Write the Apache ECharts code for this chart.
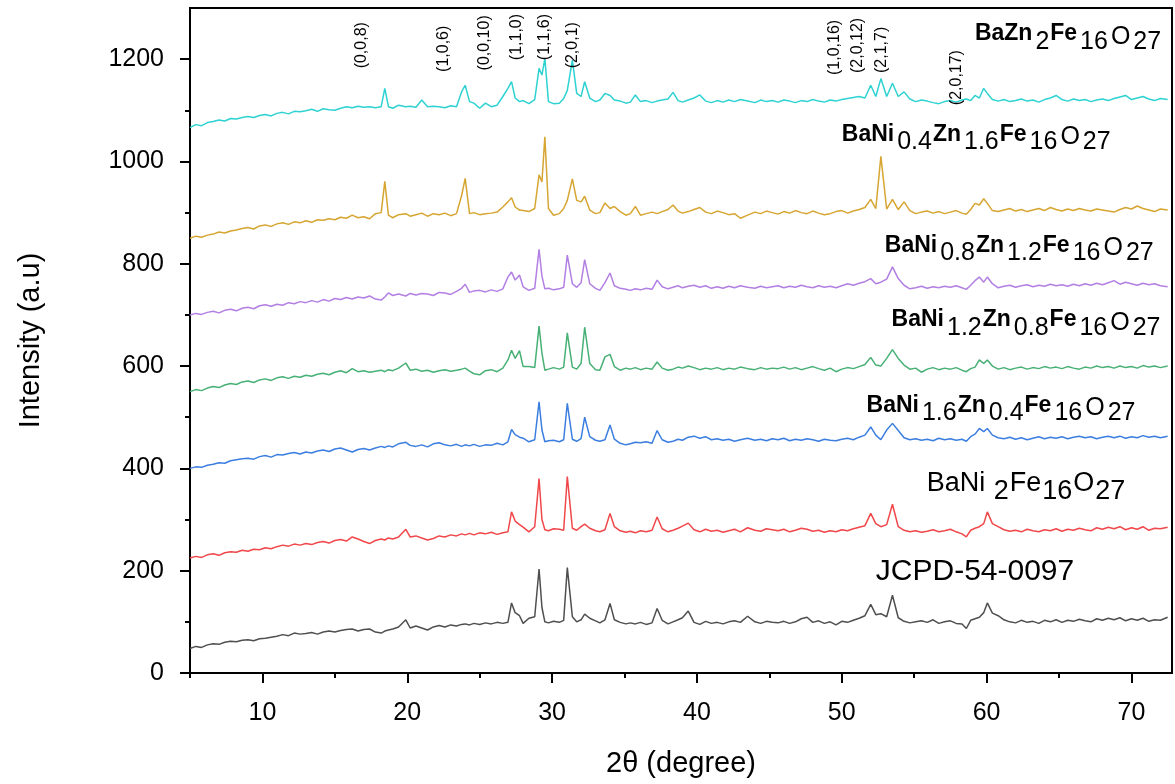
<!DOCTYPE html>
<html><head><meta charset="utf-8">
<script src="https://cdn.jsdelivr.net/npm/echarts@6/dist/echarts.min.js"></script>
<style>html,body{margin:0;padding:0;background:#fff}#c{width:1175px;height:784px}</style>
</head><body><div id="c"></div>
<script>
const twoTheta = [
5.0,5.4,5.8,6.2,6.6,7.0,7.4,7.8,8.2,8.6,
9.0,9.4,9.8,10.2,10.6,11.0,11.4,11.8,12.2,12.6,
13.0,13.4,13.8,14.2,14.6,15.0,15.4,15.8,16.2,16.6,
17.0,17.4,17.8,18.2,18.45,18.7,19.0,19.4,19.9,20.2,
20.6,21.0,21.4,21.8,22.2,22.6,23.0,23.4,23.75,24.0,
24.3,24.6,25.0,25.4,25.8,26.2,26.6,26.95,27.2,27.45,
27.75,28.0,28.4,28.8,29.1,29.3,29.5,29.75,30.1,30.5,
30.8,31.05,31.4,31.7,32.0,32.25,32.6,33.0,33.3,33.65,
34.0,34.3,34.7,35.1,35.4,35.75,36.1,36.5,36.9,37.25,
37.6,38.0,38.35,38.7,39.0,39.4,39.8,40.2,40.6,41.0,
41.4,41.8,42.2,42.6,43.0,43.5,44.0,44.4,44.8,45.2,
45.6,46.0,46.4,46.8,47.2,47.6,48.0,48.4,48.8,49.2,
49.6,50.0,50.4,50.8,51.2,51.6,52.0,52.35,52.7,53.1,
53.5,53.9,54.3,54.7,55.1,55.5,55.9,56.3,56.7,57.1,
57.5,57.9,58.3,58.6,58.9,59.2,59.5,59.8,60.05,60.4,
60.8,61.2,61.6,62.0,62.4,62.8,63.2,63.6,64.0,64.4,
64.8,65.2,65.6,66.0,66.4,66.8,67.2,67.6,68.0,68.4,
68.8,69.2,69.6,70.0,70.4,70.8,71.2,71.6,72.0,72.5
];

const jcpd = [
48,52,50,55,57,56,60,62,61,64,
65,63,67,68,70,72,75,73,78,76,
77,79,76,80,82,80,83,85,86,82,
85,86,80,78,82,84,86,90,104,88,
92,88,84,90,93,90,94,92,95,96,
94,97,95,98,96,99,97,99,137,118,
112,97,107,110,203,128,100,98,101,99,
103,206,110,100,104,115,107,102,98,104,
136,104,99,96,98,96,99,95,98,126,
103,96,100,104,108,121,99,95,101,97,
99,96,100,102,99,111,100,97,101,99,
98,101,97,100,106,109,99,102,97,100,
94,101,99,103,107,112,134,114,116,110,
152,108,101,98,100,102,99,104,97,100,
102,97,96,87,103,106,109,118,137,117,
112,104,100,98,103,99,101,97,103,100,
104,99,103,101,105,102,100,106,103,107,
104,108,102,106,103,107,101,104,103,109
];

const baNi2 = [
225,228,226,231,233,230,235,237,236,240,
238,242,241,245,243,247,250,248,252,250,
253,251,255,257,254,259,261,258,266,262,
257,253,259,262,260,264,262,266,281,266,
268,264,260,263,268,266,270,268,272,270,
273,270,274,272,275,271,274,276,315,297,
290,285,276,286,380,300,280,278,282,281,
279,384,283,279,286,291,283,278,276,280,
312,286,278,275,277,274,278,276,279,305,
282,276,279,283,287,293,280,276,281,277,
279,275,278,281,276,284,279,277,282,280,
278,281,276,279,283,281,277,279,275,278,
276,280,278,282,285,288,312,292,286,290,
330,286,279,276,278,275,277,280,276,278,
281,276,272,266,279,283,286,292,315,292,
286,280,277,279,276,281,278,276,280,278,
282,277,281,279,283,280,278,284,281,285,
282,286,280,284,281,286,279,283,282,285
];

const baNi16 = [
400,403,402,406,408,411,410,415,417,419,
420,418,423,425,422,427,426,429,431,428,
432,430,434,436,433,438,440,436,432,437,
439,436,440,443,441,444,442,448,451,445,
443,446,442,448,450,446,444,447,443,446,
444,447,443,446,445,449,446,452,476,466,
461,459,452,456,530,475,452,454,455,452,
456,527,457,453,458,500,462,455,453,456,
485,457,449,446,448,451,450,452,449,474,
456,451,453,457,455,461,463,459,462,456,
458,455,457,453,456,459,455,457,454,458,
456,459,454,457,455,458,456,453,457,455,
454,457,459,456,461,465,481,465,456,475,
488,474,460,456,458,455,457,454,459,456,
458,455,457,453,462,467,478,472,478,465,
460,458,461,457,460,456,459,462,458,461,
459,462,458,461,463,460,462,458,461,463,
460,463,459,462,460,464,461,463,460,463
];

const baNi12 = [
550,554,552,557,560,558,563,566,564,569,
571,568,573,575,572,577,579,576,580,578,
582,580,584,586,583,588,591,587,595,589,
591,588,590,592,589,593,591,596,606,592,
594,590,592,588,591,593,590,592,594,596,
590,585,583,591,593,589,596,612,631,615,
630,599,599,597,678,625,592,594,597,594,
598,665,598,594,605,676,605,593,592,618,
623,599,592,596,594,597,593,596,594,608,
596,592,594,598,596,600,597,593,596,594,
597,593,596,594,598,595,593,597,594,596,
595,598,594,597,593,596,599,595,592,596,
589,594,597,595,599,603,617,602,600,615,
632,615,602,594,596,588,594,597,593,596,
594,597,592,589,595,598,612,605,612,600,
594,597,593,596,598,594,597,595,599,596,
598,595,599,596,594,598,596,600,597,599,
596,600,597,599,596,601,598,600,597,600
];

const baNi08 = [
700,703,701,705,707,704,709,711,708,713,
715,712,718,720,717,721,719,724,722,726,
724,728,725,730,727,732,730,734,731,735,
733,737,731,729,735,743,738,741,737,742,
739,742,741,738,744,743,740,746,752,760,
744,747,748,745,749,746,751,774,784,768,
778,755,748,752,828,776,751,752,749,751,
754,817,761,754,763,808,761,752,748,763,
782,757,752,750,748,751,749,752,750,768,
755,751,754,757,753,756,758,754,757,752,
755,752,756,753,757,754,752,756,753,755,
757,753,756,754,758,755,753,757,754,756,
753,757,761,758,762,765,771,761,764,770,
794,771,758,751,753,756,752,755,753,756,
754,757,753,750,758,767,774,764,774,761,
753,756,758,754,757,759,755,758,756,760,
757,759,756,760,757,761,758,762,759,763,
767,760,764,761,758,762,759,761,757,755
];

const baNi04 = [
850,854,852,856,858,862,860,864,866,869,
871,868,874,876,873,878,880,877,882,880,
884,881,886,885,888,886,891,889,895,890,
892,888,898,900,961,895,890,896,898,893,
896,899,893,898,896,899,894,898,933,967,
898,900,896,898,899,901,911,921,929,911,
905,904,902,908,974,960,1048,908,895,898,
908,924,966,924,921,932,905,898,900,919,
908,912,902,895,898,912,895,898,901,898,
902,906,915,903,899,902,906,910,901,898,
903,900,896,898,889,895,901,898,903,900,
897,902,899,904,900,898,903,899,896,898,
902,904,899,903,906,910,926,908,1010,907,
926,906,921,904,898,901,903,899,902,898,
901,904,899,897,906,918,915,927,918,904,
902,905,908,903,906,902,905,908,904,910,
906,903,907,904,908,905,903,907,905,903,
901,906,910,907,913,908,905,902,907,905
];

const baZn2 = [
1066,1072,1070,1076,1078,1081,1079,1084,1083,1086,
1088,1086,1090,1092,1089,1094,1096,1093,1098,1097,
1099,1102,1098,1103,1101,1100,1104,1107,1105,1108,
1106,1107,1105,1107,1143,1107,1104,1110,1107,1108,
1106,1120,1107,1108,1107,1105,1109,1107,1136,1149,
1117,1114,1104,1114,1107,1110,1127,1143,1156,1124,
1117,1119,1113,1121,1182,1169,1201,1117,1113,1114,
1123,1139,1198,1133,1127,1156,1124,1117,1120,1133,
1129,1120,1118,1114,1116,1130,1117,1119,1115,1118,
1120,1122,1135,1119,1116,1120,1124,1130,1118,1115,
1119,1116,1120,1117,1121,1118,1115,1120,1117,1119,
1116,1120,1118,1115,1119,1117,1121,1118,1116,1120,
1118,1121,1123,1125,1127,1124,1149,1127,1162,1127,
1153,1127,1136,1122,1117,1120,1118,1115,1113,1117,
1119,1116,1120,1122,1119,1129,1124,1143,1133,1121,
1118,1121,1117,1119,1122,1118,1120,1116,1121,1124,
1129,1121,1118,1122,1119,1121,1117,1120,1122,1119,
1123,1126,1129,1121,1124,1127,1122,1119,1123,1121
];

const patternNames = ['JCPD-54-0097','BaNi2Fe16O27','BaNi1.6Zn0.4Fe16O27','BaNi1.2Zn0.8Fe16O27','BaNi0.8Zn1.2Fe16O27','BaNi0.4Zn1.6Fe16O27','BaZn2Fe16O27'];
const patternValues = [jcpd, baNi2, baNi16, baNi12, baNi08, baNi04, baZn2];
const patternColors = ['#4f4f4f','#f0474a','#3b7ee0','#47b075','#b27fe3','#d6a532','#2ed2d2'];

// formula labels: rich text, anchored at (2θ, intensity) of their left-middle point
const formulaLabels = [
  {text:'{r|JCPD-54-0097}', x:52.35, y:197},
  {text:'{n|BaNi }{t|2}{n|Fe}{t|16}{n|O}{t|27}', x:55.86, y:362},
  {text:'{m|BaNi}{s|1.6}{m|Zn}{s|0.4}{m|Fe}{s|16}{o|O}{s|27}', x:51.71, y:514},
  {text:'{m|BaNi}{s|1.2}{m|Zn}{s|0.8}{m|Fe}{s|16}{o|O}{s|27}', x:53.44, y:682},
  {text:'{m|BaNi}{s|0.8}{m|Zn}{s|1.2}{m|Fe}{s|16}{o|O}{s|27}', x:52.97, y:827},
  {text:'{m|BaNi}{s|0.4}{m|Zn}{s|1.6}{m|Fe}{s|16}{o|O}{s|27}', x:50.0, y:1044},
  {text:'{m|BaZn}{s|2}{m|Fe}{s|16}{o|O}{s|27}', x:59.19, y:1241}
];

// Miller indices: anchored at (peak 2θ, intensity at the bottom end of the vertical text)
const millerLabels = [
  {text:'(0,0,8)', x:16.86, y:1182},
  {text:'(1,0,6)', x:22.52, y:1175},
  {text:'(0,0,10)', x:25.35, y:1178},
  {text:'(1,1,0)', x:27.56, y:1198},
  {text:'(1,1,6)', x:29.49, y:1198},
  {text:'(2,0,1)', x:31.43, y:1182},
  {text:'(1,0,16)', x:49.52, y:1169},
  {text:'(2,0,12)', x:51.11, y:1173},
  {text:'(2,1,7)', x:52.77, y:1173},
  {text:'(2,0,17)', x:57.95, y:1110}
];

const xMajorTicks = [10,20,30,40,50,60,70];
const xMinorTicks = [5,15,25,35,45,55,65];
const yMajorTicks = [0,200,400,600,800,1000,1200];
const yMinorTicks = [100,300,500,700,900,1100];

const FONT = 'Liberation Sans, Arial, sans-serif';
const chart = echarts.init(document.getElementById('c'), null, {renderer:'canvas'});

const axisCommon = {
  axisLine:{show:true, lineStyle:{color:'#000', width:2}},
  splitLine:{show:false}
};

const lineSeries = patternValues.map((vals, i) => ({
  name: patternNames[i],
  type:'line',
  data: twoTheta.map((x, j) => [x, vals[j]]),
  showSymbol:false,
  symbol:'none',
  lineStyle:{color:patternColors[i], width:1.5},
  itemStyle:{color:patternColors[i]},
  animation:false,
  z:2
}));

const rich = {
  m:{fontFamily:FONT, fontWeight:'bold', fontSize:23, color:'#000', verticalAlign:'bottom', padding:[0,0,9,0]},
  s:{fontFamily:FONT, fontSize:25, color:'#000', verticalAlign:'bottom', padding:[0,1,0,3]},
  o:{fontFamily:FONT, fontSize:25, color:'#000', verticalAlign:'bottom', padding:[0,0,5,2]},
  n:{fontFamily:FONT, fontSize:27, color:'#000', verticalAlign:'bottom', padding:[0,0,8,0]},
  t:{fontFamily:FONT, fontSize:27, color:'#000', verticalAlign:'bottom', padding:[0,1,0,1]},
  r:{fontFamily:FONT, fontSize:30, color:'#000', verticalAlign:'bottom'}
};

const formulaSeries = {
  type:'scatter',
  symbolSize:0,
  silent:true,
  animation:false,
  z:5,
  itemStyle:{opacity:1},
  data: formulaLabels.map(l => ({value:[l.x, l.y], label:{formatter:l.text}})),
  label:{show:true, position:'inside', align:'left', verticalAlign:'middle', color:'#000', opacity:1, rich:rich}
};

const millerSeries = {
  type:'scatter',
  symbolSize:0,
  silent:true,
  animation:false,
  z:5,
  itemStyle:{opacity:1},
  data: millerLabels.map(l => ({value:[l.x, l.y], label:{formatter:l.text}})),
  label:{show:true, position:'inside', rotate:90, align:'left', verticalAlign:'middle', opacity:1,
         fontFamily:FONT, fontSize:16, color:'#000'}
};

chart.setOption({
  backgroundColor:'#fff',
  animation:false,
  grid:{left:190, right:3, top:8, bottom:111, show:true, borderColor:'#000', borderWidth:2, containLabel:false},
  xAxis:[
    Object.assign({}, axisCommon, {
      type:'value', min:5, max:72.8, position:'bottom',
      name:'2\u03b8 (degree)', nameLocation:'middle', nameGap:76,
      nameTextStyle:{fontFamily:FONT, fontSize:29, color:'#000'},
      axisTick:{show:true, inside:false, length:10, customValues:xMajorTicks, lineStyle:{color:'#000', width:2}},
      axisLabel:{show:true, customValues:xMajorTicks, margin:28, formatter:v => String(v), fontFamily:FONT, fontSize:25, color:'#000'}
    }),
    {
      type:'value', min:5, max:72.8, position:'bottom',
      axisLine:{show:false}, splitLine:{show:false},
      axisTick:{show:true, inside:false, length:5, customValues:xMinorTicks, lineStyle:{color:'#000', width:2}},
      axisLabel:{show:false}
    }
  ],
  yAxis:[
    Object.assign({}, axisCommon, {
      type:'value', min:0, max:1300, position:'left',
      name:'Intensity (a.u)', nameLocation:'middle', nameGap:145, nameRotate:90,
      nameTextStyle:{fontFamily:FONT, fontSize:29, color:'#000'},
      axisTick:{show:true, inside:false, length:10, customValues:yMajorTicks, lineStyle:{color:'#000', width:2}},
      axisLabel:{show:true, customValues:yMajorTicks, margin:26, formatter:v => String(v), fontFamily:FONT, fontSize:25, color:'#000'}
    }),
    {
      type:'value', min:0, max:1300, position:'left',
      axisLine:{show:false}, splitLine:{show:false},
      axisTick:{show:true, inside:false, length:5, customValues:yMinorTicks, lineStyle:{color:'#000', width:2}},
      axisLabel:{show:false}
    }
  ],
  series: lineSeries.concat([formulaSeries, millerSeries])
});
</script>
</body></html>
